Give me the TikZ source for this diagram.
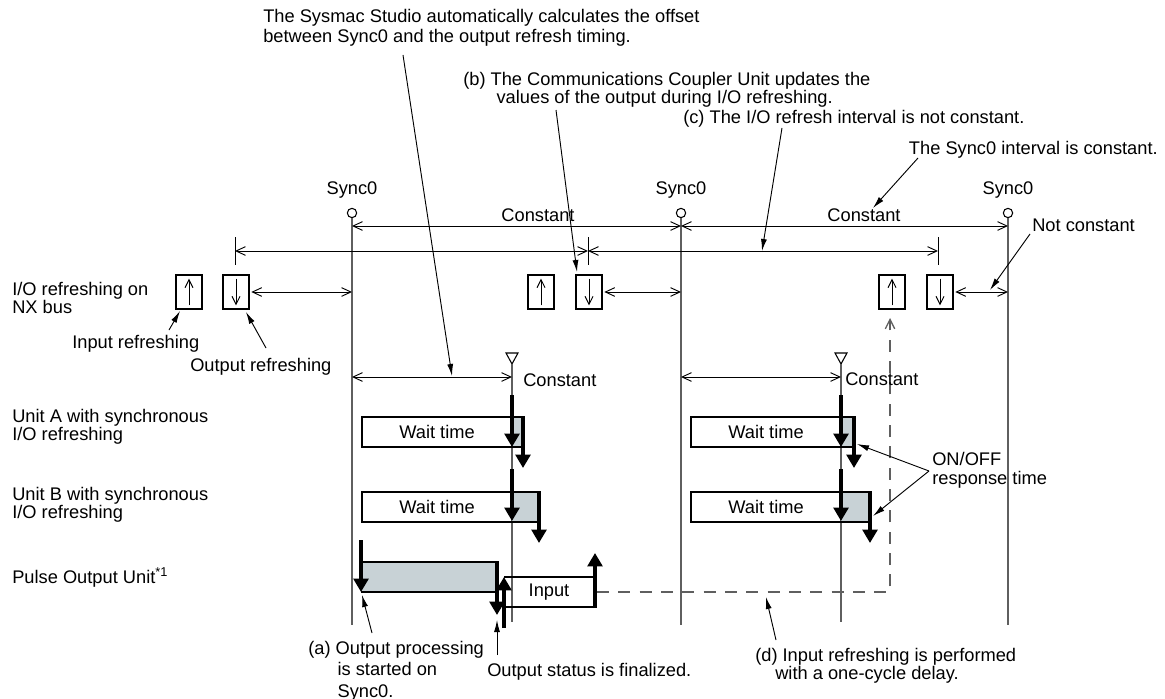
\documentclass[tikz,border=0pt]{standalone}
\usepackage{fontspec}
\setmainfont{Liberation Sans}
\usetikzlibrary{arrows.meta}

\definecolor{waitfill}{RGB}{200,210,214}
\definecolor{tline}{RGB}{95,95,95}

\begin{document}
\begin{tikzpicture}[
		x=0.75pt,
		y=-0.75pt,
		font=\fontsize{13.7}{15}\selectfont,
		dim/.style={{Straight Barb[length=7pt,width=6.5pt]}-{Straight Barb[length=7pt,width=6.5pt]}, line width=0.7pt},
		callout/.style={-{Latex[length=9pt,width=4.5pt]}, line width=0.7pt},
		heavy/.style={-{Triangle[length=10pt,width=11pt]}, line width=2.5pt},
		syncline/.style={tline, line width=1.1pt},
		frame/.style={line width=1.5pt},
		iobox/.style={draw, frame, minimum width=19.5pt, minimum height=25.5pt, anchor=north west, inner sep=0pt},
		txt/.style={inner sep=0pt, anchor=north west, align=left}
		]
		\useasboundingbox (0,0) rectangle (1165,699);
		
		% Sync0 lines
		\foreach \x/\k in {352/1, 681/2, 1008/3} {
			\node[circle, draw, line width=0.8pt, inner sep=0pt, minimum size=7pt] (s\k) at (\x,213) {};
			\node[anchor=base] (sync\k) at (\x,195) {Sync0};
			\draw[syncline] (s\k.south) -- (\x,625);
		}
		
		% Offset markers
		\foreach \x in {512, 841} {
			\draw[line width=0.8pt] (\x-6,353) -- (\x+6,353) -- (\x,364) -- cycle;
			\draw[syncline] (\x,364) -- (\x,622);
			\draw[dim] (\x-160,377) -- (\x,377);
		}
		
		% Sync0 interval and I/O refresh interval
		\draw[dim] (s1 |- 0,226) -- (s2 |- 0,226);
		\draw[dim] (s2 |- 0,226) -- (s3 |- 0,226);
		\foreach \x in {235, 588, 938} \draw[line width=0.7pt] (\x,237) -- (\x,265);
		\draw[dim] (235,251) -- (588,251);
		\draw[dim] (588,251) -- (938,251);
		
		% I/O refreshing on NX bus
		\foreach \xi/\xo/\k in {175/222/1, 527/575/2, 878/926/3} {
			\node[iobox] (in\k) at (\xi,274) {};
			\node[iobox] (out\k) at (\xo,274) {};
			\draw[-{Straight Barb[length=6pt,width=6pt]}, line width=0.7pt] ([yshift=3.5pt]in\k.south) -- ([yshift=-3.5pt]in\k.north);
			\draw[-{Straight Barb[length=6pt,width=6pt]}, line width=0.7pt] ([yshift=-3.5pt]out\k.north) -- ([yshift=3.5pt]out\k.south);
			\draw[dim] ([xshift=1pt]out\k.east) -- (out\k.east -| s\k);
		}
		
		% Unit A and Unit B
		\foreach \l/\m/\ra/\rb/\k in {362/512/523/539/1, 691/841/854/870/2} {
			\fill[waitfill] (\m,417) rectangle (\ra,447);
			\draw[frame] (\ra,417) -- (\l,417) -- (\l,447) -- (\ra,447);
			\node (waitA\k) at ({(\l+\m)/2},432) {Wait time};
			\draw[heavy] (\m,395) -- (\m,447);
			\draw[heavy] (\ra,416) -- (\ra,468);
			\fill[waitfill] (\m,492) rectangle (\rb,522);
			\draw[frame] (\rb,492) -- (\l,492) -- (\l,522) -- (\rb,522);
			\node (waitB\k) at ({(\l+\m)/2},507) {Wait time};
			\draw[heavy] (\m,469) -- (\m,521);
			\draw[heavy] (\rb,491) -- (\rb,543);
		}
		
		% Pulse Output Unit
		\fill[waitfill] (361,562) rectangle (497,592);
		\draw[frame] (361,562) -- (497,562);
		\draw[line width=0.8pt] (361,592) -- (497,592);
		\draw[heavy] (361,540) -- (361,592);
		\draw[heavy] (497,561) -- (497,615);
		\draw[frame] (504,577) -- (595,577);
		\draw[frame] (504,607) -- (595,607);
		\node (input) at (549,592) {Input};
		\draw[heavy] (504,628) -- (504,577);
		\draw[heavy] (595,608) -- (595,553);
		\draw[tline, line width=1pt, dash pattern=on 9pt off 7pt, -{Straight Barb[length=7pt,width=7pt]}] (597,592) -- (890,592) -- (890,318);
		
		% Texts
		\node[txt] (offsettxt) at (263,9) {The Sysmac Studio automatically calculates the offset\\between Sync0 and the output refresh timing.};
		\node[txt, font=\fontsize{13.7}{12.5}\selectfont] (btxt) at (463,72) {(b) The Communications Coupler Unit updates the\\\hspace*{25pt}values of the output during I/O refreshing.};
		\node[txt] (ctxt) at (683,110) {(c) The I/O refresh interval is not constant.};
		\node[txt, anchor=north east] (synctxt) at (1158,141) {The Sync0 interval is constant.};
		\node[txt] (nctxt) at (1032,219) {Not constant};
		\node[anchor=base] (consta) at (538,221) {Constant};
		\node[anchor=base] (constb) at (864,221) {Constant};
		\node[txt] (constc) at (523,373) {Constant};
		\node[txt] (constd) at (845,372) {Constant};
		\node[txt, font=\fontsize{13.7}{12.5}\selectfont] (nxtxt) at (12,282) {I/O refreshing on\\NX bus};
		\node[txt] (intxt) at (72,335) {Input refreshing};
		\node[txt] (outtxt) at (190,358) {Output refreshing};
		\node[txt, font=\fontsize{13.7}{12.5}\selectfont] (unitA) at (12,409) {Unit A with synchronous\\I/O refreshing};
		\node[txt, font=\fontsize{13.7}{12.5}\selectfont] (unitB) at (12,487) {Unit B with synchronous\\I/O refreshing};
		\node[txt] (pulse) at (12,567) {Pulse Output Unit\textsuperscript{*1}};
		\node[txt, font=\fontsize{13.7}{16}\selectfont] (atxt) at (308,641) {(a) Output processing\\\hspace*{22pt}is started on\\\hspace*{22pt}Sync0.};
		\node[txt] (fintxt) at (487,663) {Output status is finalized.};
		\node[txt, font=\fontsize{13.7}{13.5}\selectfont] (dtxt) at (755,648) {(d) Input refreshing is performed\\\hspace*{15pt}with a one-cycle delay.};
		\node[txt, font=\fontsize{13.7}{14}\selectfont] (ontxt) at (932,452) {ON/OFF\\response time};
		
		% Callouts
		\draw[callout] (403,55) -- (452,376);
		\draw[callout] (556,110) -- (577,272);
		\draw[callout] (782,128) -- (762,251);
		\draw[callout] (918,158) -- (873,208);
		\draw[callout] (1030,234) -- (990,290);
		\draw[callout] (169,330) -- (180,311);
		\draw[callout] (266,348) -- (246,312);
		\draw[callout] (929,471) -- (857,444);
		\draw[callout] (929,471) -- (873,516);
		\draw[callout] (372,633) -- (362,595);
		\draw[callout] (497,655) -- (497,620);
		\draw[callout] (776,640) -- (766,597);
	\end{tikzpicture}
\end{document}
